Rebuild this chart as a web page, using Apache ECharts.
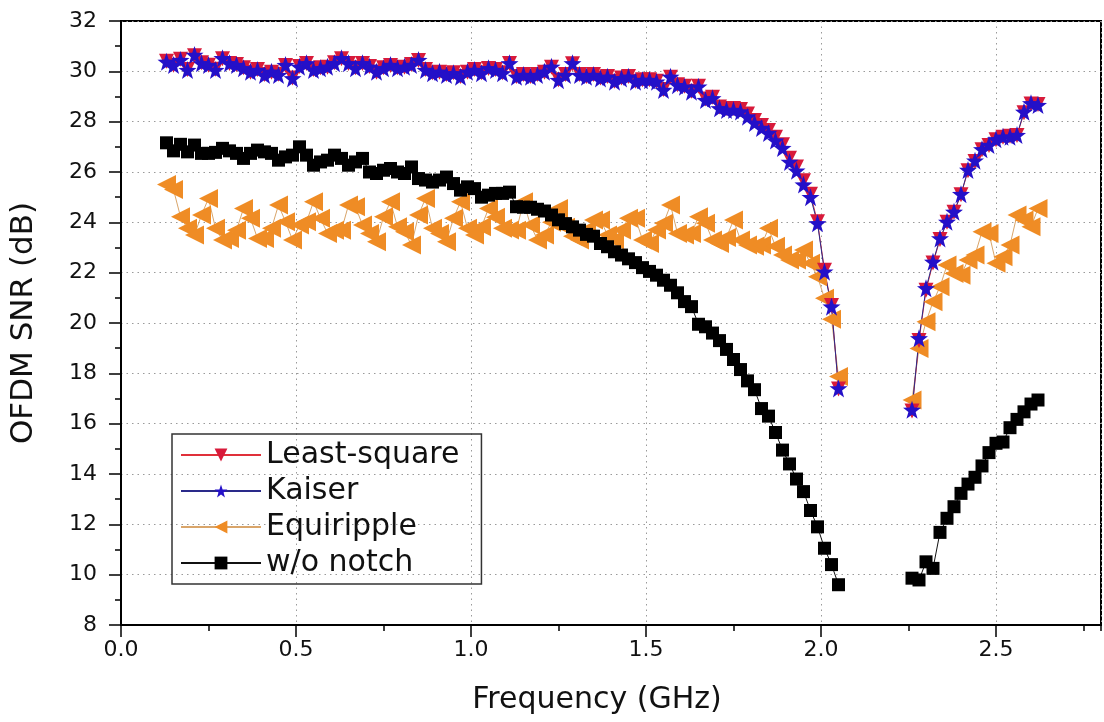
<!DOCTYPE html>
<html>
<head>
<meta charset="utf-8">
<title>OFDM SNR vs Frequency</title>
<script src="https://cdn.jsdelivr.net/npm/echarts@6/dist/echarts.min.js"></script>
<style>
  html, body { margin: 0; padding: 0; background: #fff; }
  #chart { width: 1104px; height: 722px; }
</style>
</head>
<body>
<div id="chart"></div>
<script>
// frequency points (GHz), band below and above the notch
const freqLow = [
  0.13, 0.15, 0.17, 0.19, 0.21, 0.23, 0.25, 0.27, 0.29, 0.31,
  0.33, 0.35, 0.37, 0.39, 0.41, 0.43, 0.45, 0.47, 0.49, 0.51,
  0.53, 0.55, 0.57, 0.59, 0.61, 0.63, 0.65, 0.67, 0.69, 0.71,
  0.73, 0.75, 0.77, 0.79, 0.81, 0.83, 0.85, 0.87, 0.89, 0.91,
  0.93, 0.95, 0.97, 0.99, 1.01, 1.03, 1.05, 1.07, 1.09, 1.11,
  1.13, 1.15, 1.17, 1.19, 1.21, 1.23, 1.25, 1.27, 1.29, 1.31,
  1.33, 1.35, 1.37, 1.39, 1.41, 1.43, 1.45, 1.47, 1.49, 1.51,
  1.53, 1.55, 1.57, 1.59, 1.61, 1.63, 1.65, 1.67, 1.69, 1.71,
  1.73, 1.75, 1.77, 1.79, 1.81, 1.83, 1.85, 1.87, 1.89, 1.91,
  1.93, 1.95, 1.97, 1.99, 2.01, 2.03, 2.05
]
const freqHigh = [2.26, 2.28, 2.30, 2.32, 2.34, 2.36, 2.38, 2.40, 2.42, 2.44, 2.46, 2.48, 2.50, 2.52, 2.54, 2.56, 2.58, 2.60, 2.62]

// OFDM SNR (dB)
const leastSquareLow = [
  30.40, 30.24, 30.48, 30.07, 30.62, 30.34, 30.24, 30.08, 30.50, 30.31,
  30.27, 30.14, 29.96, 30.07, 29.87, 29.96, 29.88, 30.23, 29.74, 30.19,
  30.31, 30.07, 30.14, 30.16, 30.34, 30.50, 30.31, 30.14, 30.31, 30.19,
  29.96, 30.14, 30.23, 30.14, 30.16, 30.27, 30.43, 30.07, 29.94, 29.96,
  29.87, 29.94, 29.79, 29.96, 30.07, 29.94, 30.11, 30.07, 29.94, 30.31,
  29.79, 29.87, 29.79, 29.87, 29.96, 30.16, 29.67, 29.87, 30.30, 29.87,
  29.79, 29.87, 29.74, 29.79, 29.61, 29.74, 29.79, 29.61, 29.67, 29.67,
  29.61, 29.28, 29.76, 29.47, 29.41, 29.21, 29.41, 28.90, 28.97, 28.58,
  28.52, 28.52, 28.48, 28.30, 28.05, 27.85, 27.65, 27.38, 27.08, 26.55,
  26.20, 25.65, 25.12, 24.02, 22.10, 20.70, 17.38
]
const leastSquareHigh = [16.50, 19.30, 21.30, 22.38, 23.32, 24.00, 24.40, 25.10, 26.05, 26.42, 26.88, 27.05, 27.28, 27.38, 27.42, 27.45, 28.35, 28.70, 28.68]

const kaiserLow = [
  30.38, 30.25, 30.45, 30.05, 30.65, 30.32, 30.25, 30.05, 30.52, 30.32,
  30.25, 30.12, 29.98, 30.05, 29.85, 29.98, 29.85, 30.25, 29.72, 30.18,
  30.32, 30.05, 30.12, 30.18, 30.32, 30.52, 30.32, 30.12, 30.32, 30.18,
  29.98, 30.12, 30.25, 30.12, 30.18, 30.25, 30.45, 30.05, 29.92, 29.98,
  29.85, 29.92, 29.78, 29.98, 30.05, 29.92, 30.12, 30.05, 29.92, 30.32,
  29.78, 29.85, 29.78, 29.85, 29.98, 30.18, 29.65, 29.85, 30.32, 29.85,
  29.78, 29.85, 29.72, 29.78, 29.59, 29.72, 29.78, 29.59, 29.65, 29.65,
  29.59, 29.26, 29.78, 29.45, 29.39, 29.19, 29.39, 28.86, 28.93, 28.53,
  28.46, 28.46, 28.40, 28.20, 27.95, 27.75, 27.55, 27.25, 26.95, 26.40,
  26.05, 25.50, 25.00, 23.96, 22.04, 20.65, 17.40
]
const kaiserHigh = [16.55, 19.39, 21.38, 22.43, 23.36, 24.02, 24.42, 25.12, 26.08, 26.45, 26.90, 27.07, 27.30, 27.40, 27.40, 27.47, 28.39, 28.73, 28.66]

const equirippleLow = [
  25.50, 25.30, 24.22, 23.76, 23.50, 24.29, 24.95, 23.76, 23.30, 23.36,
  23.69, 24.55, 24.16, 23.36, 23.36, 23.76, 24.69, 24.02, 23.30, 23.89,
  24.02, 24.82, 24.16, 23.56, 23.69, 23.69, 24.69, 24.62, 23.89, 23.56,
  23.23, 24.22, 24.82, 23.82, 23.63, 23.10, 24.29, 24.95, 23.76, 23.56,
  23.23, 24.16, 24.82, 23.76, 23.50, 23.82, 24.55, 24.20, 23.76, 23.70,
  23.69, 24.82, 23.89, 23.30, 23.50, 24.00, 24.55, 23.80, 23.45, 23.30,
  23.70, 24.09, 24.09, 23.50, 23.30, 23.70, 24.16, 24.16, 23.30, 23.16,
  23.70, 23.96, 24.69, 23.56, 23.50, 23.56, 24.22, 23.96, 23.30, 23.16,
  23.40, 24.09, 23.30, 23.10, 23.05, 23.10, 23.76, 23.05, 22.70, 22.50,
  22.50, 22.90, 22.37, 21.84, 20.98, 20.15, 17.87
]
const equirippleHigh = [16.94, 18.99, 20.05, 20.84, 21.44, 22.30, 21.97, 21.90, 22.50, 22.70, 23.63, 23.56, 22.37, 22.63, 23.10, 24.29, 24.09, 23.82, 24.55]

const noNotchLow = [
  27.16, 26.84, 27.10, 26.80, 27.07, 26.74, 26.74, 26.78, 26.94, 26.84,
  26.74, 26.54, 26.74, 26.87, 26.80, 26.74, 26.47, 26.60, 26.67, 27.00,
  26.67, 26.27, 26.40, 26.47, 26.67, 26.54, 26.27, 26.40, 26.54, 26.00,
  25.94, 26.07, 26.14, 26.00, 25.94, 26.20, 25.74, 25.68, 25.60, 25.68,
  25.80, 25.54, 25.28, 25.41, 25.34, 25.00, 25.08, 25.15, 25.15, 25.20,
  24.62, 24.60, 24.60, 24.52, 24.45, 24.29, 24.10, 23.95, 23.82, 23.69,
  23.52, 23.45, 23.16, 23.03, 22.83, 22.70, 22.55, 22.40, 22.20, 22.05,
  21.90, 21.70, 21.50, 21.20, 20.85, 20.65, 19.95, 19.85, 19.60, 19.30,
  18.95, 18.55, 18.15, 17.70, 17.35, 16.60, 16.30, 15.65, 14.95, 14.40,
  13.80, 13.30, 12.55, 11.90, 11.05, 10.40, 9.60
]
const noNotchHigh = [9.86, 9.79, 10.51, 10.25, 11.68, 12.24, 12.70, 13.23, 13.60, 13.87, 14.32, 14.85, 15.22, 15.27, 15.84, 16.17, 16.47, 16.78, 16.94]

const seriesNames = ['Least-square', 'Kaiser', 'Equiripple', 'w/o notch']

const FONT = 'DejaVu Sans'
const STAR = 'path://M0,-10L2.35,-3.24L9.51,-3.09L3.8,1.24L5.88,8.09L0,4L-5.88,8.09L-3.8,1.24L-9.51,-3.09L-2.35,-3.24Z'

// two bands with a break across the notch
function bandData(low, high) {
  return low.map((v, i) => [freqLow[i], v])
    .concat([[2.155, '-']])
    .concat(high.map((v, i) => [freqHigh[i], v]))
}

function lineSeries(name, low, high, lineColor, markColor, symbol, size, rotate) {
  return {
    name, type: 'line', data: bandData(low, high), connectNulls: false,
    symbol, symbolSize: size, symbolRotate: rotate || 0,
    lineStyle: { color: lineColor, width: 1 },
    itemStyle: { color: markColor, borderWidth: 0 },
    emphasis: { disabled: true },
  }
}

const chart = echarts.init(document.getElementById('chart'))
const dotted = { color: '#9a9a9a', width: 1, type: [1.5, 4] }

chart.setOption({
  animation: false,
  backgroundColor: '#fff',
  textStyle: { fontFamily: FONT },
  grid: { left: 120, right: 3, top: 21, bottom: 97, show: true, borderColor: '#000', borderWidth: 2, backgroundColor: 'transparent' },
  legend: {
    data: seriesNames, orient: 'vertical', left: 172, top: 434,
    itemWidth: 80, itemHeight: 16, itemGap: 6,
    padding: [6, 22, 6, 8], borderColor: '#333', borderWidth: 1.5,
    textStyle: { fontFamily: FONT, fontSize: 30, color: '#111' },
  },
  xAxis: [
    {
      type: 'value', min: 0, max: 2.8, interval: 0.5,
      name: 'Frequency (GHz)', nameLocation: 'middle', nameGap: 60,
      nameTextStyle: { fontFamily: FONT, fontSize: 30, color: '#111', padding: [0, 28, 0, 0] },
      axisLine: { lineStyle: { color: '#000', width: 2 } },
      axisTick: { length: 12, lineStyle: { color: '#000', width: 1.5 } },
      axisLabel: { formatter: (v) => v.toFixed(1), showMaxLabel: false, margin: 14, fontFamily: FONT, fontSize: 22, color: '#111' },
      splitLine: { lineStyle: dotted },
    },
    {
      type: 'value', min: 0, max: 2.8, interval: 0.25, position: 'bottom',
      axisLine: { show: false }, axisLabel: { show: false }, splitLine: { show: false },
      axisTick: { length: 6, lineStyle: { color: '#000', width: 1.5 } },
    },
  ],
  yAxis: {
    type: 'value', min: 8, max: 32, interval: 2,
    name: 'OFDM SNR (dB)', nameLocation: 'middle', nameGap: 82,
    nameTextStyle: { fontFamily: FONT, fontSize: 31, color: '#111' },
    axisLine: { show: true, lineStyle: { color: '#000', width: 2 } },
    axisTick: { length: 12, lineStyle: { color: '#000', width: 1.5 } },
    minorTick: { show: true, splitNumber: 2, length: 6, lineStyle: { color: '#000', width: 1.5 } },
    axisLabel: { margin: 24, fontFamily: FONT, fontSize: 22, color: '#111' },
    splitLine: { lineStyle: dotted },
  },
  series: [
    lineSeries('Equiripple', equirippleLow, equirippleHigh, '#d9a56a', '#ef8c25', 'triangle', 19, 90),
    lineSeries('w/o notch', noNotchLow, noNotchHigh, '#111', '#000', 'rect', 13),
    lineSeries('Least-square', leastSquareLow, leastSquareHigh, '#e0303a', '#d81a3a', 'triangle', 15, 180),
    lineSeries('Kaiser', kaiserLow, kaiserHigh, '#2a2a8a', '#2410c8', STAR, 18),
  ],
})
</script>
</body>
</html>
